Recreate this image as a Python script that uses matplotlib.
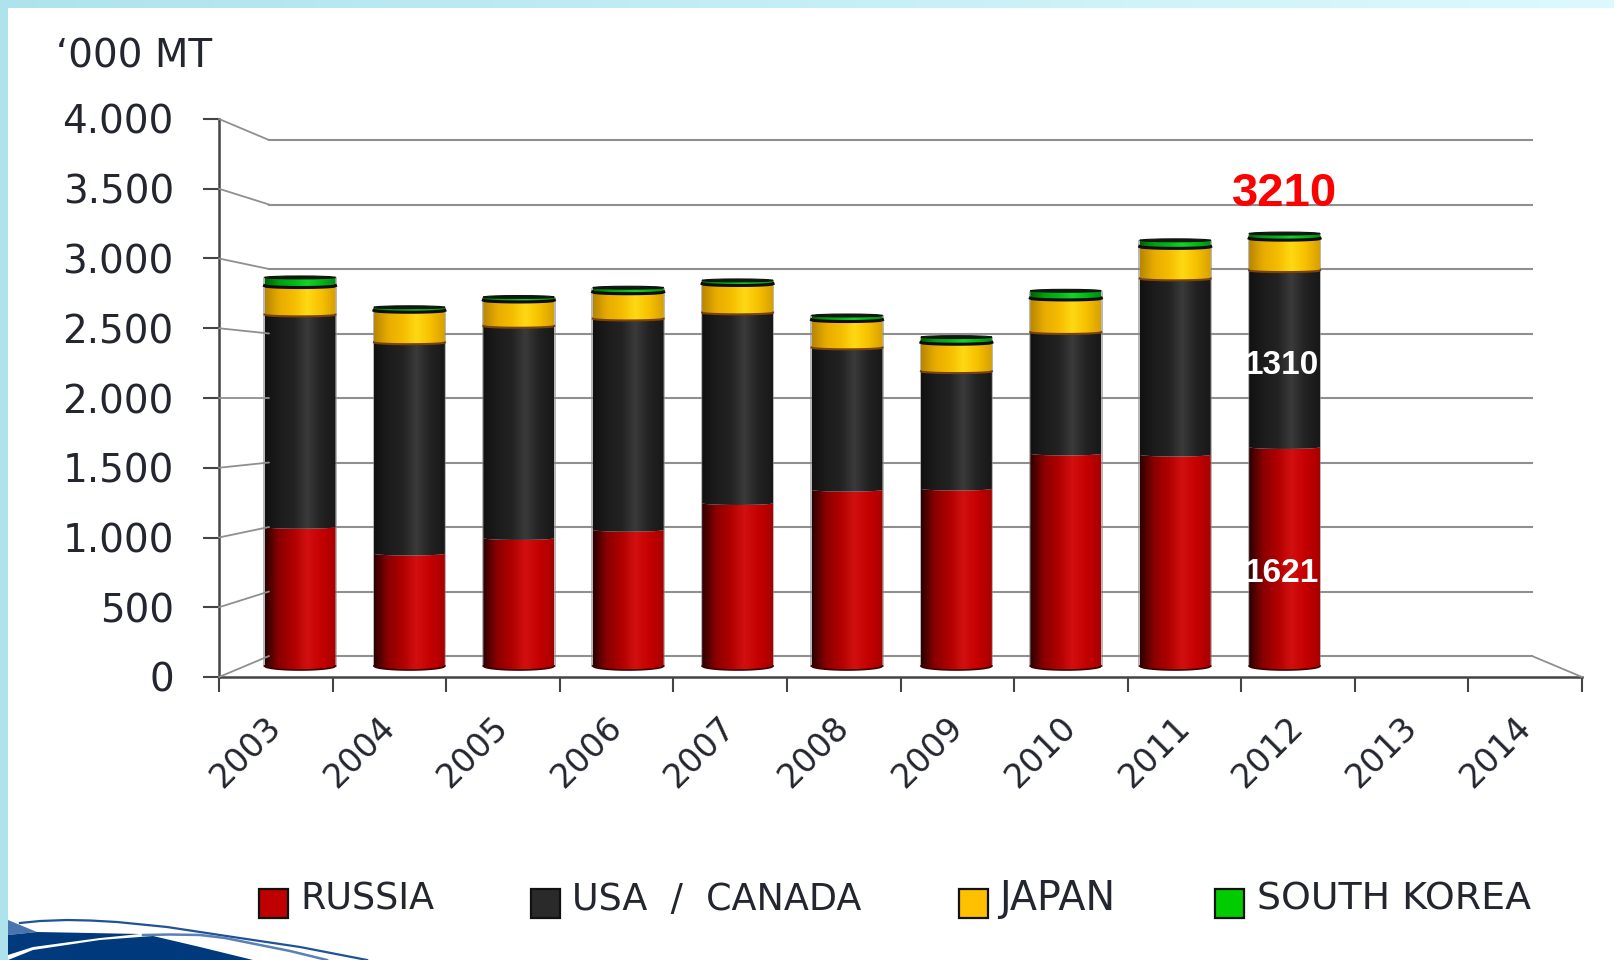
import numpy as np
import matplotlib
matplotlib.use('Agg')
import matplotlib.pyplot as plt
from matplotlib.colors import LinearSegmentedColormap
from matplotlib.patches import ConnectionPatch, Ellipse, Polygon, Rectangle
from matplotlib.path import Path
from matplotlib.patches import PathPatch

# values
years = ['2003', '2004', '2005', '2006', '2007', '2008', '2009', '2010', '2011', '2012', '2013', '2014']
russia = [1030, 832, 947, 1008, 1206, 1305, 1313, 1573, 1565, 1621]
usa_canada = [1573, 1565, 1572, 1565, 1412, 1054, 870, 900, 1305, 1310]
japan = [214, 237, 191, 198, 214, 206, 214, 252, 237, 237]
south_korea = [68, 30, 30, 38, 31, 38, 46, 61, 53, 42]
y_ticks = [0, 500, 1000, 1500, 2000, 2500, 3000, 3500, 4000]
y_labels = ['0', '500', '1.000', '1.500', '2.000', '2.500', '3.000', '3.500', '4.000']
series_names = ['RUSSIA', 'USA  /  CANADA', 'JAPAN', 'SOUTH KOREA']
unit_label = '\u2018000 MT'
total_label = '3210'

W, H = 1614, 960
TEXT = '#23262e'
GRID = '#8f8f8f'
AXIS = '#444444'

gradients = [
    ['#2c0000', '#8c0000', '#b00000', '#d21010', '#c40000', '#a80000'],
    ['#111111', '#1c1c1c', '#222222', '#3a3a3a', '#222222', '#181818'],
    ['#b88600', '#e8ac00', '#f4bc00', '#ffd814', '#f6c000', '#d8a000'],
    ['#006000', '#00a010', '#00b818', '#12d428', '#00b818', '#008c10'],
]
swatch_colors = ['#c00000', '#2a2a2a', '#ffc000', '#00cc00']
swatch_x = [259, 531, 959, 1215]
label_x = [300, 572, 999, 1257]
label_size = [26.3, 26.3, 28.5, 27.3]


def axes_px(left, top, right, bottom):
    # axes from pixel box, y counted from the top of the image
    return fig.add_axes([left / W, 1 - bottom / H, (right - left) / W, (bottom - top) / H])


fig = plt.figure(figsize=(W / 100, H / 100), dpi=100, facecolor='white')

# slide background and logo, in pixels
deco = axes_px(0, 0, W, H)
deco.set_xlim(0, W)
deco.set_ylim(H, 0)
deco.axis('off')
top_cmap = LinearSegmentedColormap.from_list('top', ['#aee3ee', '#dcfafd'])
deco.imshow(np.linspace(0, 1, 256).reshape(1, -1), extent=(0, W, 8, 0), cmap=top_cmap, aspect='auto')
deco.add_patch(Rectangle((0, 0), 8, H, color='#aee3ee', lw=0))
deco.add_patch(Polygon([(8, 920), (8, 935), (37, 932)], color='#4a74b0', lw=0))
deco.add_patch(Polygon([(8, 935), (37, 932), (90, 933), (140, 934), (100, 938), (33, 947), (8, 955)],
                       color='#003a7c', lw=0))
deco.add_patch(Polygon([(8, 960), (33, 950), (100, 940), (153, 936), (200, 947), (253, 960)],
                       color='#003a7c', lw=0))
deco.plot([20, 40, 67, 90, 117, 167, 233, 300, 367], [923, 921, 920, 920.5, 922, 927, 937, 947, 960],
          color='#1f5296', lw=1.6)
deco.plot([143, 170, 200, 225, 250, 290, 327], [935, 934.5, 935, 938, 943, 951, 960], color='#5a80b4', lw=1.8)
deco.set_xlim(0, W)
deco.set_ylim(H, 0)

# back wall with the gridlines
wall = axes_px(269, 140, 1532, 656)
wall.set_xlim(0, 1)
wall.set_ylim(0, 4000)
wall.axis('off')
for v in y_ticks:
    wall.axhline(v, color=GRID, lw=1.5, clip_on=False)

# front axes
ax = axes_px(219, 119, 1582, 677)
ax.patch.set_alpha(0)
ax.set_xlim(0, 12)
ax.set_ylim(0, 4000)
for side in ['top', 'right']:
    ax.spines[side].set_visible(False)
for side in ['left', 'bottom']:
    ax.spines[side].set_color(AXIS)
    ax.spines[side].set_linewidth(1.8)
ax.set_yticks(y_ticks)
ax.set_yticklabels(y_labels, fontsize=28, color=TEXT)
ax.tick_params(axis='y', length=11.5, width=1.5, color=AXIS, pad=21)
ax.set_xticks(range(13))
ax.set_xticklabels([])
ax.tick_params(axis='x', which='major', length=10.5, width=1.5, color=AXIS)
ax.set_xticks(np.arange(12) + 0.4, minor=True)
ax.set_xticklabels(years, minor=True, fontsize=24, color=TEXT, rotation=45, ha='right',
                   rotation_mode='anchor')
ax.tick_params(axis='x', which='minor', length=0, pad=24)

# connectors between axis and wall
for v in y_ticks:
    fig.add_artist(ConnectionPatch(xyA=(0, v), coordsA=ax.transData, xyB=(0, v), coordsB=wall.transData,
                                   color=GRID, lw=1.3))
fig.add_artist(ConnectionPatch(xyA=(12, 0), coordsA=ax.transData, xyB=(1, 0), coordsB=wall.transData,
                               color=GRID, lw=1.3))

# bars
bars = axes_px(245.3, 126, 1558.1, 679.5)
bars.patch.set_alpha(0)
bars.axis('off')
bars.set_xlim(-0.5, 11.5)
bars.set_ylim(-100, 4000)

bar_w = 0.648
curve = 4 / 0.1349  # depth of the rounded edge, in data units
rim = 1.8 / 0.1349
t = np.linspace(-1, 1, 61)
arc = curve * np.sqrt(1 - t ** 2)
flat = rim * np.sqrt(1 - t ** 2)

series = [russia, usa_canada, japan, south_korea]
for i in range(len(russia)):
    base = 0
    xs = i + t * bar_w / 2
    for s, vals in enumerate(series):
        top = base + vals[i]
        low_edge = arc if s == 0 else flat
        high_edge = flat
        pts = np.r_[np.c_[xs, base - low_edge], np.c_[xs[::-1], top - high_edge[::-1]]]
        clip = PathPatch(Path(np.r_[pts, pts[:1]]), transform=bars.transData, fc='none', ec='none')
        bars.add_patch(clip)
        cmap = LinearSegmentedColormap.from_list('seg%d' % s, gradients[s])
        im = bars.imshow(np.linspace(0, 1, 128).reshape(1, -1), cmap=cmap, aspect='auto',
                         extent=(i - bar_w / 2, i + bar_w / 2, base - curve, top), zorder=3)
        im.set_clip_path(clip)
        # thin seam between the stacked parts
        if s == 2:
            bars.plot(xs, base - flat, color='#7a4210', lw=1.5, zorder=4)
        if s == 3:
            bars.plot(xs, base - flat, color='#0c0c0c', lw=2.2, zorder=4)
        base = top
    # dark rim on the top of the cylinder and the sides
    bars.add_patch(Ellipse((i, base - rim / 2), bar_w, rim * 1.6, fc='#0e1a0e', ec='#111111', lw=0.8, zorder=5))
    bars.plot(xs, -arc, color='#3c0000', lw=1.2, zorder=5)
    for edge in [-1, 1]:
        bars.plot([i + edge * (bar_w / 2 + 0.004)] * 2, [0, base - rim], color='#888888', lw=1.2, alpha=0.7,
                  zorder=2.5)
bars.set_xlim(-0.5, 11.5)
bars.set_ylim(-100, 4000)

# value labels on the last bar
last = len(russia) - 1
bars.annotate(total_label, (last, sum(s[last] for s in series)), xytext=(0, 28), textcoords='offset points',
              ha='center', va='center', color='#ff0000', fontsize=34, fontweight='bold',
              family='Liberation Sans', zorder=6)
bars.annotate(str(usa_canada[last]), (last, russia[last] + usa_canada[last] / 2), xytext=(-2, -5),
              textcoords='offset points', ha='center', va='center', color='white', fontsize=24,
              fontweight='bold', family='Liberation Sans', zorder=6)
bars.annotate(str(russia[last]), (last, russia[last] / 2), xytext=(-2, -12),
              textcoords='offset points', ha='center', va='center', color='white', fontsize=24,
              fontweight='bold', family='Liberation Sans', zorder=6)

# unit and legend
fig.text(56 / W, 1 - 67 / H, unit_label, fontsize=28, color=TEXT, ha='left', va='baseline')
for name, col, sx, lx, fs in zip(series_names, swatch_colors, swatch_x, label_x, label_size):
    deco.add_patch(Rectangle((sx, 889), 29, 29, fc=col, ec='#111111', lw=1.6))
    deco.text(lx, 910, name, fontsize=fs, color=TEXT, ha='left', va='baseline')

fig.savefig('out.png', dpi=100)
